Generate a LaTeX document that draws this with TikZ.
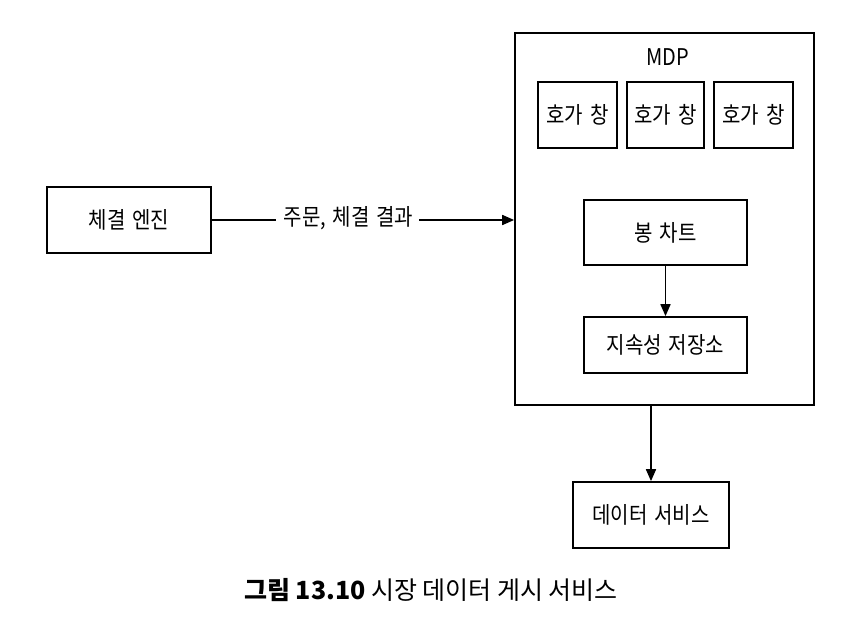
\documentclass[tikz,border=0pt]{standalone}
\usepackage{fontspec}
\setmainfont{Noto Sans CJK KR}
\newfontfamily\krc[FakeStretch=0.87,WordSpace=1.5]{Noto Sans CJK KR}
\usetikzlibrary{arrows.meta}
\begin{document}
\begin{tikzpicture}[x=1pt,y=-1pt,
  txt/.style={font=\krc\fontsize{23}{27}\selectfont},
  box/.style={draw=black,line width=1.7pt,inner sep=0pt,align=center,txt},
  conn/.style={line width=1.7pt,-{Triangle[length=12pt,width=10pt]}},
  plain/.style={line width=1.7pt}]
\useasboundingbox (0,0) rectangle (852,640);
\node[box,minimum width=299pt,minimum height=372pt] (mdp) at (664.5,219) {};
\node[txt] (mdplabel) at (668,57) {MDP};
\node[box,minimum width=79pt,minimum height=66pt] (ob1) at (577.5,115) {호가 창};
\node[box,minimum width=77pt,minimum height=66pt] (ob2) at (665.5,115) {호가 창};
\node[box,minimum width=79pt,minimum height=66pt] (ob3) at (753.5,115) {호가 창};
\node[box,minimum width=163pt,minimum height=65pt] (chart) at (665.5,232.5) {봉 차트};
\node[box,minimum width=163pt,minimum height=56pt] (store) at (665.5,345) {지속성 저장소};
\node[box,minimum width=164pt,minimum height=66pt] (engine) at (129,220) {체결 엔진};
\node[box,minimum width=156pt,minimum height=66pt] (data) at (651,515) {데이터 서비스};
\node[txt,inner sep=0pt] (lbl) at (348.5,218) {주문, 체결 결과};
\draw[plain] (engine.east) -- ([xshift=-8pt]lbl.west |- engine.east);
\draw[conn] ([xshift=6pt]lbl.east |- engine.east) -- (mdp.west |- engine.east);
\draw[conn] (chart.south) -- (store.north);
\draw[conn] (data.north |- mdp.south) -- (data.north);
\node[anchor=west,inner sep=0pt,font=\fontsize{25}{30}\selectfont] (cap) at (244,590) {{\bfseries 그림 13.10} 시장 데이터 게시 서비스};
\end{tikzpicture}
\end{document}
